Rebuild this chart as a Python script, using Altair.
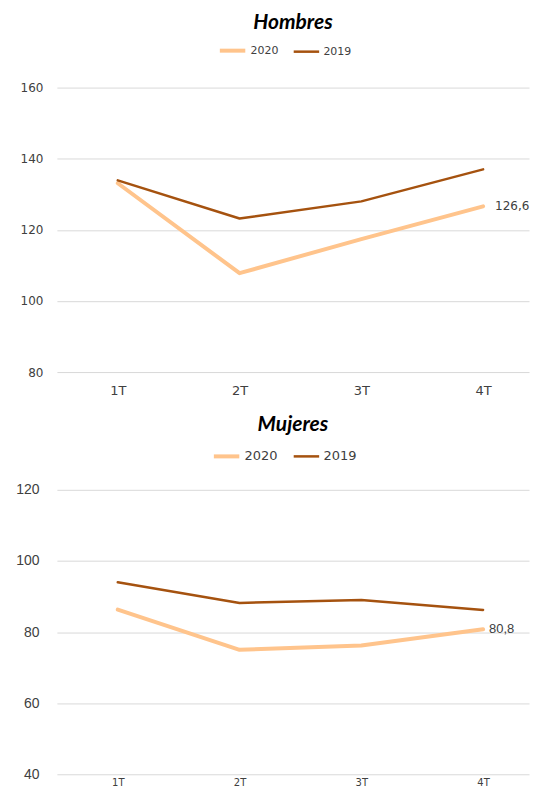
import altair as alt
import pandas as pd

quarters = ["1T", "2T", "3T", "4T"]
series = ["2020", "2019"]
hombres_2020 = [133.1, 107.8, 117.4, 126.6]
hombres_2019 = [133.9, 123.2, 128.0, 137.0]
mujeres_2020 = [86.3, 75.0, 76.2, 80.8]
mujeres_2019 = [94.0, 88.2, 89.0, 86.2]
hombres_ticks = [80, 100, 120, 140, 160]
mujeres_ticks = [40, 60, 80, 100, 120]
label_hombres = "126,6"
label_mujeres = "80,8"
colors = ["#FFC48C", "#A5520F"]

label_expr = "[" + ",".join("'%s'" % q for q in quarters) + "][datum.value]"

W = 473
STEP = 122


def make_df(v2020, v2019, last_label):
    rows = []
    for s, vals in zip(series, [v2020, v2019]):
        for i, (q, v) in enumerate(zip(quarters, vals)):
            lab = last_label if (s == "2020" and i == len(quarters) - 1) else ""
            rows.append({"i": i, "q": q, "s": s, "v": v, "lab": lab})
    return pd.DataFrame(rows)


def panel(df, title, ticks, ylab_font, ylab_size, ylab_pad, xlab_size, xlab_pad,
          leg_size, leg_x, leg_y, lab_dx, lab_size, lab_font, title_offset):
    x = alt.X("i:Q", title=None,
              scale=alt.Scale(domain=[-0.5, -0.5 + W / STEP], nice=False, zero=False),
              axis=alt.Axis(values=list(range(len(quarters))), labelExpr=label_expr,
                            domain=False, ticks=False, grid=False, labelAngle=0,
                            labelFont="DejaVu Sans", labelFontSize=xlab_size,
                            labelColor="#404040", labelPadding=xlab_pad,
                            labelFlush=False))
    y = alt.Y("v:Q", title=None,
              scale=alt.Scale(domain=[ticks[0], ticks[-1]], nice=False, zero=False),
              axis=alt.Axis(values=ticks, domain=False, ticks=False, grid=True,
                            gridColor="#d9d9d9", gridWidth=1,
                            labelFont=ylab_font, labelFontSize=ylab_size,
                            labelColor="#404040", labelPadding=ylab_pad,
                            minExtent=49, maxExtent=49))
    lines = alt.Chart(df).mark_line(strokeJoin="round", strokeCap="round").encode(
        x=x, y=y,
        color=alt.Color("s:N", scale=alt.Scale(domain=series, range=colors),
                        legend=alt.Legend(title=None, orient="none", direction="horizontal",
                                          legendX=leg_x, legendY=leg_y,
                                          symbolType="stroke", symbolSize=650,
                                          symbolStrokeWidth=3,
                                          labelFont="DejaVu Sans", labelFontSize=leg_size,
                                          labelColor="#404040", labelOffset=3,
                                          columnPadding=10)),
        strokeWidth=alt.StrokeWidth("s:N", scale=alt.Scale(domain=series, range=[4, 2.5]),
                                    legend=None),
        order=alt.Order("i:Q"),
    )
    text = alt.Chart(df).transform_filter(alt.datum.lab != "").mark_text(
        align="left", baseline="middle", dx=lab_dx, font=lab_font,
        fontSize=lab_size, color="#404040"
    ).encode(x=x, y=y, text="lab:N")
    return alt.layer(lines, text).properties(
        width=W, height=285,
        title=alt.Title(title, font="Lato", fontSize=21, fontWeight="bold",
                        fontStyle="italic", color="#000000", anchor="middle",
                        offset=title_offset),
    )


top = panel(make_df(hombres_2020, hombres_2019, label_hombres), "Hombres", hombres_ticks,
            "DejaVu Sans", 12, 14, 13, 12, 11, 161, -52, 12, 12, "DejaVu Sans", 2.5)
bottom = panel(make_df(mujeres_2020, mujeres_2019, label_mujeres), "Mujeres", mujeres_ticks,
               "Liberation Sans", 14, 18, 10, 3, 13, 155, -48.5, 6, 13, "Liberation Sans", 6.4)

chart = alt.vconcat(top, bottom, spacing=17).resolve_scale(
    color="independent", strokeWidth="independent", x="independent", y="independent"
).resolve_legend(color="independent").properties(
    padding={"left": 0, "top": 3, "right": 0, "bottom": 0}, background="#ffffff"
).configure_view(stroke=None)

chart.save("out.html", embed_options={"renderer": "svg", "actions": False})
